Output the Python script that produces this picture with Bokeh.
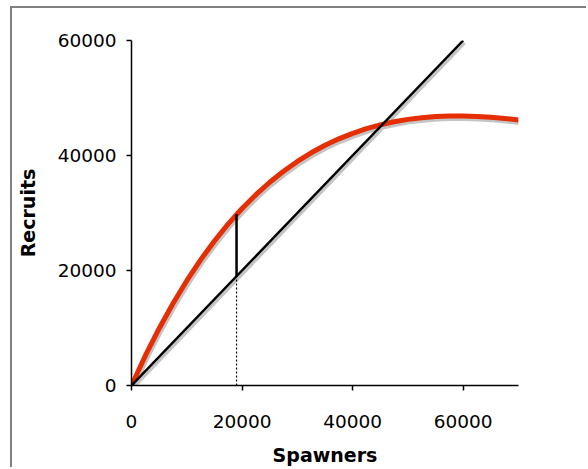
import numpy as np
from bokeh.plotting import figure
from bokeh.models import Range1d, FixedTicker
from bokeh.embed import file_html
from bokeh.resources import INLINE

# Ricker stock-recruit curve
spawners = [0, 2500, 5000, 7500, 10000, 12500, 15000, 17500, 20000, 22500, 25000,
            27500, 30000, 32500, 35000, 37500, 40000, 42500, 45000, 47500, 50000,
            52500, 55000, 57500, 60000, 62500, 65000, 67500, 70000]
recruits = [0, 5180, 9920, 14270, 18230, 21850, 25130, 28100, 30780, 33190, 35350,
            37270, 38970, 40470, 41770, 42900, 43860, 44670, 45330, 45870, 46280,
            46570, 46770, 46860, 46870, 46800, 46650, 46440, 46160]

# replacement (1:1) line
repl_s = [0, 60000]
repl_r = [0, 60000]

# marker at S = 19000
mark_s = 19000
mark_r_low = 19000
mark_r_high = 29800

x_ticks = [0, 20000, 40000, 60000]
y_ticks = [0, 20000, 40000, 60000]

W, H = 576, 461
BL, BR, BT, BB = 119, 70, 32, 84
p = figure(width=W, height=H, output_backend="svg", toolbar_location=None,
           x_range=Range1d(0, 70000), y_range=Range1d(0, 60000),
           min_border_left=BL, min_border_right=BR, min_border_top=BT,
           min_border_bottom=BB)
p.styles = {"margin-left": "10px", "margin-top": "6px",
            "border-left": "2px solid #808080", "border-top": "2px solid #808080"}
p.outline_line_color = None
p.xgrid.visible = False
p.ygrid.visible = False
p.background_fill_color = "white"
p.border_fill_color = "white"

# frame geometry in px -> data units per px for the shadow offset
fw = W - BL - BR
fh = H - BT - BB
dxp = 70000 / fw
dyp = 60000 / fh
offx, offy = 1.5 * dxp, -2.5 * dyp

sh_col = "#c4c4c4"
p.line(np.array(spawners) + offx, np.array(recruits) + offy, line_color=sh_col, line_width=5)
p.line(np.array(repl_s) + offx, np.array(repl_r) + offy, line_color=sh_col, line_width=3)

p.line(spawners, recruits, line_color="#e62e04", line_width=5)
p.line(repl_s, repl_r, line_color="black", line_width=2.5)

p.segment(x0=[mark_s], y0=[0], x1=[mark_s], y1=[mark_r_low], line_color="black",
          line_width=1.2, line_dash="2 2")
p.segment(x0=[mark_s], y0=[mark_r_low], x1=[mark_s], y1=[mark_r_high], line_color="black",
          line_width=2.5)

for ax in (p.xaxis[0], p.yaxis[0]):
    ax.axis_line_color = "black"
    ax.axis_line_width = 1.5
    ax.major_tick_line_color = "black"
    ax.major_tick_line_width = 1.5
    ax.major_tick_out = 5
    ax.major_tick_in = 0
    ax.minor_tick_line_color = None
    ax.major_label_text_font = "DejaVu Sans"
    ax.major_label_text_font_size = "18.5px"
    ax.major_label_text_color = "black"
    ax.axis_label_text_font = "DejaVu Sans"
    ax.axis_label_text_font_size = "19px"
    ax.axis_label_text_font_style = "bold"
    ax.axis_label_text_color = "black"

p.xaxis.ticker = FixedTicker(ticks=x_ticks)
p.yaxis.ticker = FixedTicker(ticks=y_ticks)
p.xaxis.axis_label = "Spawners"
p.yaxis.axis_label = "Recruits"
p.xaxis.major_label_standoff = 24
p.yaxis.major_label_standoff = 10
p.xaxis.axis_label_standoff = 13
p.yaxis.axis_label_standoff = 16

open("out.html", "w").write(file_html(p, INLINE))
